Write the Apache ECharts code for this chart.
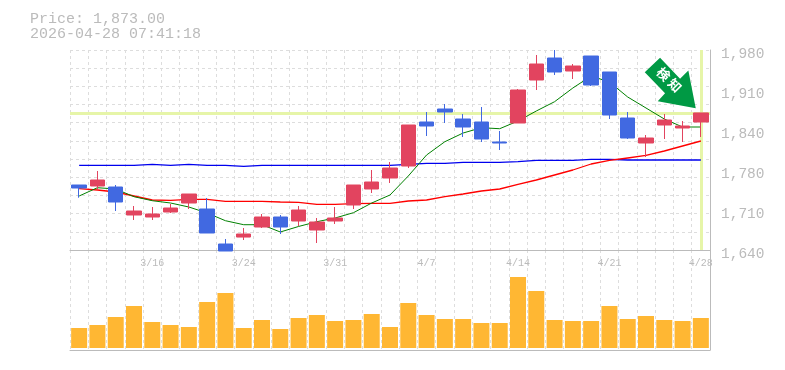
<!DOCTYPE html>
<html><head><meta charset="utf-8">
<style>html,body{margin:0;padding:0;background:#fff}#c{width:785px;height:370px}</style>
<script src="https://cdn.jsdelivr.net/npm/echarts@6/dist/echarts.min.js"></script>
</head><body><div id="c"></div>
<script>
const categories=['3/10','3/11','3/12','3/13','3/16','3/17','3/18','3/19','3/23','3/24','3/25','3/26','3/27','3/30','3/31','4/1','4/2','4/3','4/6','4/7','4/8','4/9','4/10','4/13','4/14','4/15','4/16','4/17','4/20','4/21','4/22','4/23','4/24','4/27','4/28'];
const candles=[[1750.5,1745.4,1728.9,1750.5],[1748.8,1759,1743.7,1774.3],[1747.1,1721.6,1706.3,1750.5],[1699.5,1706.3,1691,1714.8],[1696.1,1701.2,1691,1713.1],[1704.6,1711.4,1702.9,1718.2],[1719.9,1735.2,1709.7,1735.2],[1709.7,1668.9,1668.9,1728.4],[1650.2,1638.3,1638.3,1658.7],[1662,1667.2,1657,1677.4],[1679.1,1696.1,1677.4,1701.2],[1696.1,1679.1,1667.2,1699.5],[1689.3,1708,1680.8,1714.8],[1674,1687.6,1651.9,1694.4],[1689.3,1694.4,1684.2,1713.1],[1716.5,1750.5,1709.7,1750.5],[1743.7,1755.6,1736.9,1776],[1762.4,1779.4,1753.9,1789.6],[1782.8,1852.5,1779.4,1852.5],[1857.6,1850.8,1833.8,1874.6],[1879.7,1874.6,1855.9,1888.2],[1862.7,1849.1,1832.1,1871.2],[1857.6,1828.7,1823.6,1883.1],[1823.6,1821.9,1810,1842.3],[1855.9,1912,1855.9,1913.7],[1929,1956.2,1912,1971.5],[1966.4,1942.6,1937.5,1980],[1944.3,1952.8,1930.7,1956.2],[1969.8,1920.5,1918.8,1969.8],[1942.6,1869.5,1862.7,1942.6],[1864.4,1830.4,1828.7,1874.6],[1821.9,1830.4,1798.1,1835.5],[1852.5,1861,1828.7,1871.2],[1847.4,1850.8,1823.6,1859.3],[1857.6,1873,1832.1,1873]];
const ma5=[1731.8,1745.9,1743.7,1730.6,1723.8,1719.9,1713.1,1702.9,1689.8,1683,1683,1670.6,1680,1688.1,1694.4,1703.4,1719.9,1733.5,1765.8,1801.5,1824.1,1838.9,1847.9,1846.2,1859.3,1876.3,1892.1,1915.4,1935.8,1925.6,1900.1,1881.4,1862.7,1849.1,1849.1];
const ma25=[1744.2,1742,1738.6,1731.8,1725,1724.5,1726.2,1726.2,1722.8,1722.8,1722.8,1721.6,1721.1,1717.7,1717.7,1718.7,1719.4,1719.4,1723.3,1725,1730.6,1735.2,1740.3,1743.7,1751.7,1759,1767.5,1776,1786.2,1792.2,1796.4,1800.7,1808.3,1816.8,1825.3];
const ma75=[1784,1784,1784,1784,1785.7,1784,1785.7,1784,1784,1782.3,1784,1784,1784,1784,1784,1784,1784,1784,1785.7,1787.4,1787.4,1789.1,1789.1,1789.1,1790.4,1792.5,1792.5,1792.5,1794.2,1794.2,1793,1793,1793,1793,1793];
const volumes=[20,23,31,42,26,23,21,46,55,20,28,19,30,33,27,28,34,21,45,33,29,29,25,25,71,57,28,27,27,42,29,32,28,27,30];
const priceLabels=[1640,1708,1776,1844,1912,1980];
const priceLabelText=['1,640','1,710','1,780','1,840','1,910','1,980'];
const priceGrid=[1640,1670.9,1701.8,1732.7,1763.6,1794.5,1825.5,1856.4,1887.3,1918.2,1949.1,1980];
const lastPrice=1873;
const titleText='Price: 1,873.00\n2026-04-28 07:41:18';
const arrowLabel='検 知';
const GRAY='#bbb',GRID='#ddd',UP='#e2445f',DOWN='#4169e1';
const arrowPath='path://M15.3 0 L0 14.4 L20.3 35.4 L13 43.4 L51 50.4 L43.6 12.7 L35.3 21 Z';
const chart=echarts.init(document.getElementById('c'),null,{renderer:'canvas'});
const split={show:true,interval:0,lineStyle:{color:GRID,type:[3,3],width:1}};
chart.setOption({
 animation:false,
 title:{text:titleText,left:30,top:12,padding:0,textStyle:{fontFamily:'Liberation Mono',fontSize:15,fontWeight:'normal',color:GRAY,lineHeight:15}},
 grid:[{left:70,top:50,width:640,height:200,containLabel:false},{left:70,top:250,width:640,height:100}],
 xAxis:[
  {type:'category',gridIndex:0,data:categories,boundaryGap:true,splitLine:split,axisTick:{show:false},
   axisLine:{onZero:false,lineStyle:{color:GRAY,width:1}},
   axisLabel:{interval:i=>(i-4)%5===0,margin:8,fontFamily:'Liberation Mono',fontSize:10,color:GRAY,hideOverlap:false,showMaxLabel:true}},
  {type:'category',gridIndex:1,data:categories,boundaryGap:true,splitLine:split,axisTick:{show:false},
   axisLine:{onZero:false,lineStyle:{color:GRAY,width:1}},axisLabel:{show:false}}
 ],
 yAxis:[
  {type:'value',gridIndex:0,position:'right',min:1640,max:1980,scale:true,
   axisLine:{show:true,lineStyle:{color:GRAY,width:1}},
   axisTick:{show:false,customValues:priceGrid},
   splitLine:{show:true,lineStyle:{color:GRID,type:[3,3],width:1}},
   axisLabel:{customValues:priceLabels,margin:11,fontFamily:'Liberation Mono',fontSize:14.5,color:GRAY,verticalAlign:'top',padding:[-3,0,0,0],
     formatter:v=>priceLabelText[priceLabels.indexOf(v)]}},
  {type:'value',gridIndex:1,position:'right',min:-2,max:98,
   axisLine:{show:true,lineStyle:{color:GRAY,width:1}},axisTick:{show:false},splitLine:{show:false},axisLabel:{show:false}}
 ],
 series:[
  {name:'Last',type:'line',data:[],xAxisIndex:0,yAxisIndex:0,z:1,silent:true,
   markLine:{silent:true,z:1,symbol:'none',animation:false,label:{show:false},lineStyle:{color:'#e6f5a8',type:'solid',width:3},
     data:[{yAxis:lastPrice},{xAxis:categories[categories.length-1]}]}},
  {name:'MA75',type:'line',data:ma75,showSymbol:false,z:2,lineStyle:{color:'#0000ee',width:1.3}},
  {name:'MA25',type:'line',data:ma25,showSymbol:false,z:2,lineStyle:{color:'#f00',width:1.3}},
  {name:'MA5',type:'line',data:ma5,showSymbol:false,z:2,lineStyle:{color:'#008000',width:1}},
  {name:'Price',type:'candlestick',data:candles,barWidth:15,z:3,
   itemStyle:{color:UP,color0:DOWN,borderColor:UP,borderColor0:DOWN,borderWidth:1},
   markPoint:{silent:true,animation:false,symbol:arrowPath,symbolSize:[51,50.4],symbolKeepAspect:false,symbolOffset:[-30.6,-30],
     itemStyle:{color:'#009944'},z:5,
     label:{show:true,formatter:arrowLabel,position:'inside',rotate:-45,offset:[-3,-1.5],color:'#fff',fontWeight:'bold',fontSize:13,fontFamily:'Noto Sans CJK JP'},
     data:[{coord:[categories[categories.length-1],lastPrice]}]}},
  {name:'Volume',type:'bar',data:volumes,xAxisIndex:1,yAxisIndex:1,barWidth:16,itemStyle:{color:'#ffb733'}}
 ]
});
</script></body></html>
